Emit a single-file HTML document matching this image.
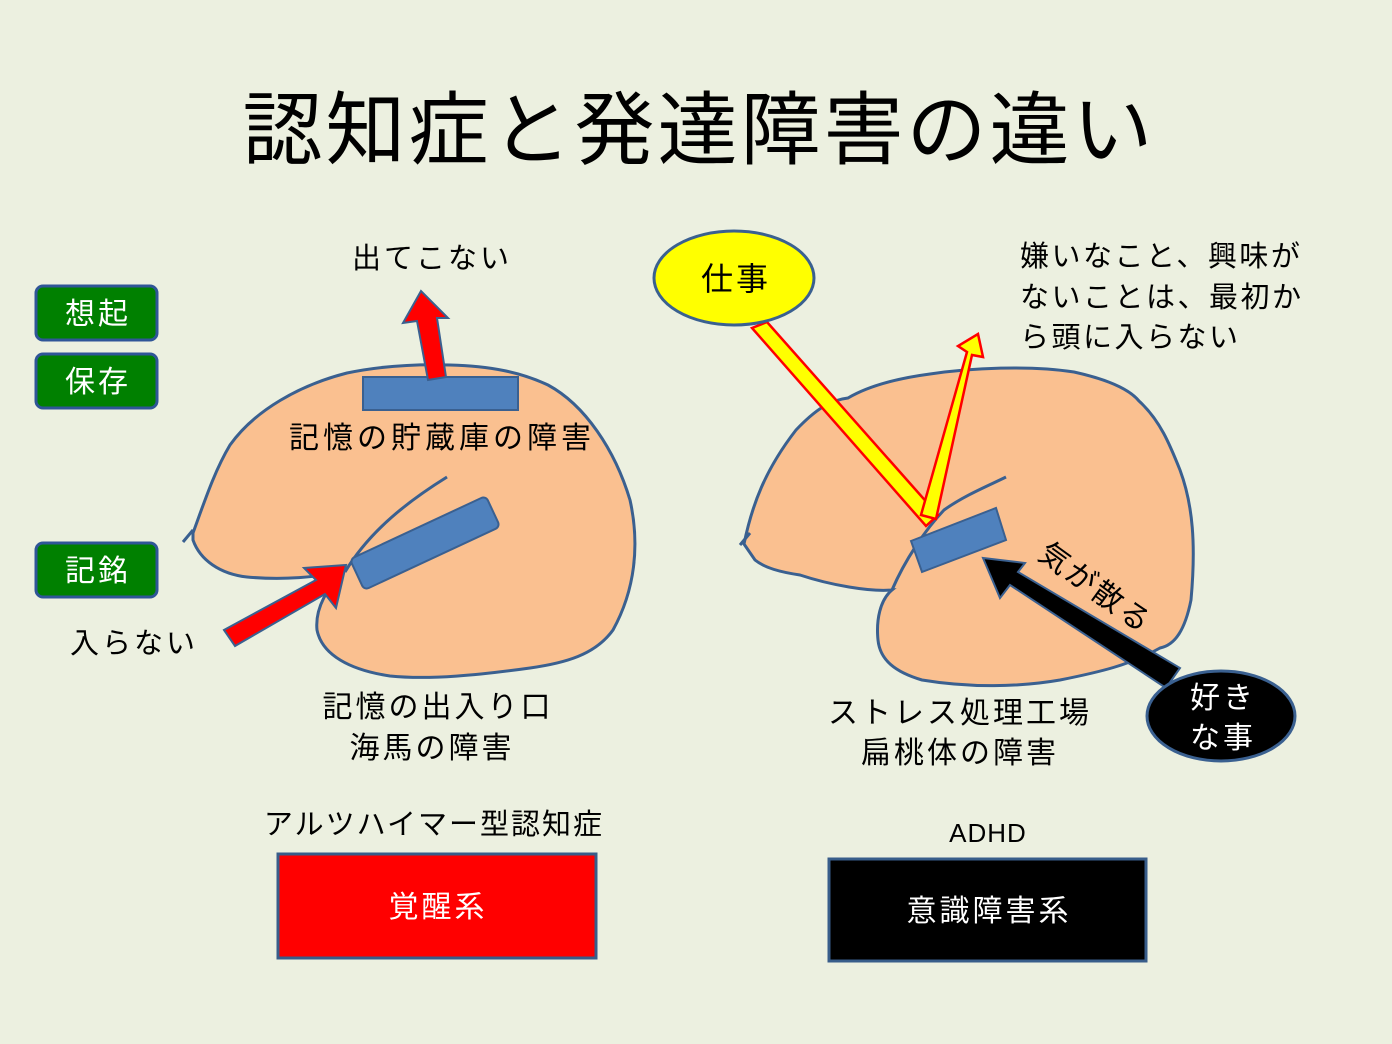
<!DOCTYPE html>
<html><head><meta charset="utf-8"><style>
html,body{margin:0;padding:0;background:#ECF0E0;}
svg{display:block}
text{font-family:"Liberation Sans","Noto Sans CJK JP",sans-serif;}
</style></head><body>
<svg width="1392" height="1044" viewBox="0 0 1392 1044" xmlns="http://www.w3.org/2000/svg">
<rect width="1392" height="1044" fill="#ECF0E0"/>
<text x="699" y="158" font-size="80" text-anchor="middle" fill="#000" letter-spacing="3">認知症と発達障害の違い</text>

<!-- Left brain -->
<path d="M193,533 C205,500 215,470 230,445 C255,410 300,385 347,373 C380,366 413,364 450,365 C490,366 520,372 548,385 C585,405 615,450 630,500 C640,545 635,590 613,630 C595,655 565,663 530,668 C480,675 430,680 390,676 C350,670 322,655 317,630 C315,610 325,590 345,570 C320,578 280,580 247,577 C220,574 200,560 193,540 Z" fill="#FAC090" stroke="#3A6090" stroke-width="3"/>
<line x1="193" y1="530" x2="183" y2="542" stroke="#3A6090" stroke-width="3"/>
<path d="M345,572 C370,530 410,500 447,477" fill="none" stroke="#3A6090" stroke-width="3"/>
<rect x="363" y="377" width="155" height="33" fill="#4F81BD" stroke="#3A6090" stroke-width="2"/>
<polygon points="428,380 446,377 437,318 448,318 421,291 403,323 417,321" fill="#FF0000" stroke="#3A6090" stroke-width="2"/>
<g transform="translate(425,543) rotate(-25)"><rect x="-75" y="-17" width="150" height="34" rx="5" fill="#4F81BD" stroke="#3A6090" stroke-width="2"/></g>
<polygon points="224,630 235,646 325,594 336,608 346,565 304,568 316,580" fill="#FF0000" stroke="#3A6090" stroke-width="2"/>

<!-- Right brain -->
<path d="M744,544 C752,505 765,470 796,430 C815,410 830,400 848,398 C870,385 900,378 930,374 C970,368 1030,365 1074,372 C1110,380 1130,390 1139,401 C1160,420 1170,445 1180,470 C1193,505 1196,545 1191,600 C1185,630 1175,645 1160,648 C1130,665 1100,672 1060,680 C1020,687 970,688 922,680 C895,672 880,660 878,640 C876,620 880,600 892,590 C870,592 830,585 800,575 C780,572 765,568 755,560 Z" fill="#FAC090" stroke="#3A6090" stroke-width="3"/>
<line x1="750" y1="533" x2="740" y2="545" stroke="#3A6090" stroke-width="3"/>
<path d="M892,590 C905,560 925,530 944,510 C965,495 990,485 1006,477" fill="none" stroke="#3A6090" stroke-width="3"/>
<polygon points="911,541 996,508 1006,540 922,572" fill="#4F81BD" stroke="#3A6090" stroke-width="2"/>

<!-- yellow arrows -->
<polygon points="752,328 767,322 938,515 926,526" fill="#FFFF00" stroke="#FF0000" stroke-width="2.5"/>
<polygon points="921,515 936,519 972,355 983,357 978,334 958,346 967,352" fill="#FFFF00" stroke="#FF0000" stroke-width="2.5"/>

<!-- black arrow -->
<polygon points="1180,668 1166,688 1010,585 1000,598 983,558 1025,563 1018,572" fill="#000" stroke="#3A6090" stroke-width="2"/>

<ellipse cx="734" cy="278" rx="80" ry="47" fill="#FFFF00" stroke="#3A6090" stroke-width="3"/>
<text x="736" y="290" font-size="32" text-anchor="middle" letter-spacing="3">仕事</text>
<ellipse cx="1221" cy="716" rx="74" ry="45" fill="#000" stroke="#3A6090" stroke-width="3"/>
<text x="1223" y="708" font-size="30" text-anchor="middle" fill="#fff" letter-spacing="3">好き</text>
<text x="1223" y="748" font-size="30" text-anchor="middle" fill="#fff" letter-spacing="3">な事</text>

<text x="1096" y="597" font-size="30" text-anchor="middle" letter-spacing="3" transform="rotate(36 1094 587)">気が散る</text>

<!-- green buttons -->
<rect x="36" y="286" width="121" height="54" rx="7" fill="#008000" stroke="#2F5597" stroke-width="3"/>
<text x="98" y="324" font-size="30" text-anchor="middle" fill="#fff" letter-spacing="3">想起</text>
<rect x="36" y="354" width="121" height="54" rx="7" fill="#008000" stroke="#2F5597" stroke-width="3"/>
<text x="98" y="392" font-size="30" text-anchor="middle" fill="#fff" letter-spacing="3">保存</text>
<rect x="36" y="543" width="121" height="54" rx="7" fill="#008000" stroke="#2F5597" stroke-width="3"/>
<text x="98" y="581" font-size="30" text-anchor="middle" fill="#fff" letter-spacing="3">記銘</text>

<!-- labels -->
<text x="432" y="268" font-size="29" text-anchor="middle" letter-spacing="3">出てこない</text>
<text x="442" y="448" font-size="30" text-anchor="middle" letter-spacing="4">記憶の貯蔵庫の障害</text>
<text x="134" y="653" font-size="29" text-anchor="middle" letter-spacing="3">入らない</text>
<text x="438" y="717" font-size="30" text-anchor="middle" letter-spacing="3">記憶の出入り口</text>
<text x="432" y="758" font-size="30" text-anchor="middle" letter-spacing="3">海馬の障害</text>
<text x="960" y="723" font-size="30" text-anchor="middle" letter-spacing="3">ストレス処理工場</text>
<text x="960" y="763" font-size="30" text-anchor="middle" letter-spacing="3">扁桃体の障害</text>
<text x="1020" y="266" font-size="29" letter-spacing="2.5">嫌いなこと、興味が</text>
<text x="1020" y="307" font-size="29" letter-spacing="2.5">ないことは、最初か</text>
<text x="1020" y="347" font-size="29" letter-spacing="2.5">ら頭に入らない</text>

<text x="434" y="834" font-size="29" text-anchor="middle" letter-spacing="2">アルツハイマー型認知症</text>
<text x="988" y="842" font-size="26" text-anchor="middle" letter-spacing="1">ADHD</text>

<rect x="278" y="854" width="318" height="104" fill="#FF0000" stroke="#385D8A" stroke-width="3"/>
<text x="438" y="917" font-size="30" text-anchor="middle" fill="#fff" letter-spacing="3">覚醒系</text>
<rect x="829" y="859" width="317" height="102" fill="#000" stroke="#385D8A" stroke-width="3"/>
<text x="989" y="921" font-size="30" text-anchor="middle" fill="#fff" letter-spacing="3">意識障害系</text>
</svg>
</body></html>
